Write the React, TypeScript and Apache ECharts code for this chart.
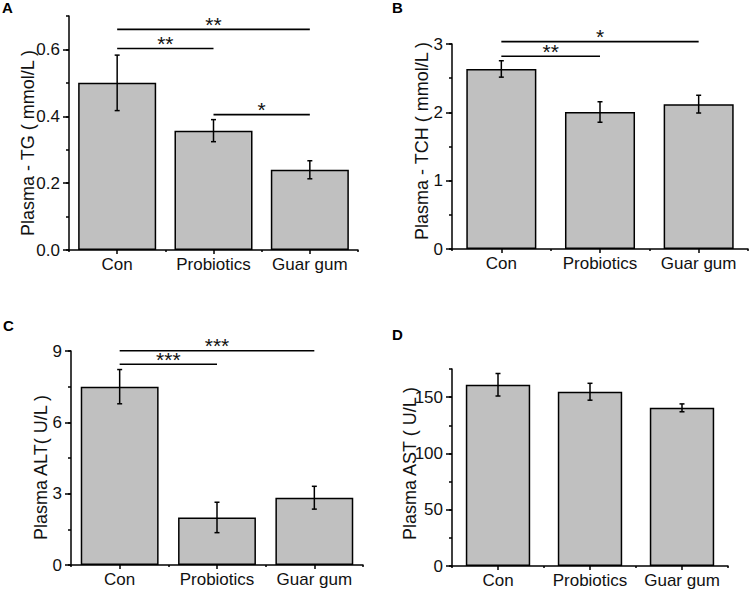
import React, { useEffect, useRef } from "react";
import * as echarts from "echarts";

const categories = ["Con", "Probiotics", "Guar gum"];

const tgMean = [0.5, 0.357, 0.24];
const tgErr = [0.083, 0.033, 0.027];
const tchMean = [2.635, 2.005, 2.12];
const tchErr = [0.12, 0.15, 0.13];
const altMean = [7.5, 2.0, 2.83];
const altErr = [0.72, 0.64, 0.48];
const astMean = [161, 154.8, 140.5];
const astErr = [10, 7.5, 3.5];

// [from category, to category, bracket height, label]
const tgSig: [number, number, number, string][] = [
  [0, 2, 0.66, "**"],
  [0, 1, 0.603, "**"],
  [1, 2, 0.405, "*"],
];
const tchSig: [number, number, number, string][] = [
  [0, 2, 3.035, "*"],
  [0, 1, 2.82, "**"],
];
const altSig: [number, number, number, string][] = [
  [0, 2, 9.01, "***"],
  [0, 1, 8.44, "***"],
];
const astSig: [number, number, number, string][] = [];

const tgTicks = [0, 0.2, 0.4, 0.6];
const tchTicks = [0, 1, 2, 3];
const altTicks = [0, 3, 6, 9];
const astTicks = [0, 50, 100, 150];

const FONT = "Liberation Sans, Arial, sans-serif";
const BLACK = "#000";
const lineStyle = { color: BLACK, width: 1.5 };

const panels = [
  {
    grid: { left: 69, top: 16, width: 289, height: 234 },
    mean: tgMean, err: tgErr, sig: tgSig, ticks: tgTicks,
    max: 0.7, minor: 0.1, dec: 1, barWidth: "81%",
    name: "Plasma - TG ( mmol/L )", nameX: 27.5, nameY: 143,
    letter: "A", lx: 2, ly: 0,
  },
  {
    grid: { left: 452, top: 44, width: 296, height: 205 },
    mean: tchMean, err: tchErr, sig: tchSig, ticks: tchTicks,
    max: 3, minor: 0.5, dec: 0, barWidth: "71%",
    name: "Plasma - TCH ( mmol/L )", nameX: 421.5, nameY: 141,
    letter: "B", lx: 392, ly: 0,
  },
  {
    grid: { left: 71, top: 351, width: 292, height: 214 },
    mean: altMean, err: altErr, sig: altSig, ticks: altTicks,
    max: 9, minor: 1.5, dec: 0, barWidth: "80%",
    name: "Plasma ALT( U/L )", nameX: 41, nameY: 467.5,
    letter: "C", lx: 3, ly: 318,
  },
  {
    grid: { left: 452, top: 369, width: 276, height: 197 },
    mean: astMean, err: astErr, sig: astSig, ticks: astTicks,
    max: 175, minor: 25, dec: 0, barWidth: "70%",
    name: "Plasma AST ( U/L )", nameX: 410, nameY: 463.5,
    letter: "D", lx: 392, ly: 327,
  },
];

function buildOption() {
  const grid: any[] = [];
  const xAxis: any[] = [];
  const yAxis: any[] = [];
  const series: any[] = [];
  const graphic: any[] = [];

  panels.forEach((p, i) => {
    grid.push({ ...p.grid, containLabel: false });
    xAxis.push({
      type: "category",
      gridIndex: i,
      data: categories,
      position: "bottom",
      axisLine: { show: true, lineStyle },
      axisTick: { show: true, alignWithLabel: true, length: 4, lineStyle },
      axisLabel: { color: "#111", fontSize: 17, fontFamily: FONT, margin: 6, interval: 0, hideOverlap: false },
      splitLine: { show: false },
    });
    xAxis.push({
      type: "category",
      gridIndex: i,
      data: categories,
      position: "bottom",
      axisLine: { show: false },
      axisTick: { show: true, length: 2, lineStyle, interval: 0 },
      axisLabel: { show: false },
      splitLine: { show: false },
    });
    yAxis.push({
      type: "value",
      gridIndex: i,
      min: 0,
      max: p.max,
      interval: p.minor,
      position: "left",
      axisLine: { show: true, lineStyle },
      axisTick: { show: true, length: 3, lineStyle },
      axisLabel: { show: false },
      splitLine: { show: false },
    });
    yAxis.push({
      type: "value",
      gridIndex: i,
      min: 0,
      max: p.max,
      position: "left",
      axisLine: { show: false },
      axisTick: { show: true, length: 6, customValues: p.ticks, lineStyle },
      axisLabel: {
        show: true,
        customValues: p.ticks,
        formatter: (v: number) => v.toFixed(p.dec),
        color: "#111",
        fontSize: 17,
        fontFamily: FONT,
        margin: 9,
      },
      splitLine: { show: false },
    });

    series.push({
      type: "bar",
      xAxisIndex: 2 * i,
      yAxisIndex: 2 * i,
      data: p.mean,
      barWidth: p.barWidth,
      itemStyle: { color: "#c0c0c0", borderColor: BLACK, borderWidth: 1.5 },
      silent: true,
    });

    series.push({
      type: "custom",
      xAxisIndex: 2 * i,
      yAxisIndex: 2 * i,
      z: 5,
      silent: true,
      data: p.mean.map((m, j) => [j, m, p.err[j]]),
      encode: { x: 0, y: 1 },
      renderItem: (params: any, api: any) => {
        const x = api.value(0);
        const m = api.value(1);
        const e = api.value(2);
        const top = api.coord([x, m + e]);
        const bot = api.coord([x, m - e]);
        const cap = 2.5;
        const st = { stroke: BLACK, lineWidth: 1.5 };
        return {
          type: "group",
          children: [
            { type: "line", shape: { x1: top[0], y1: top[1], x2: bot[0], y2: bot[1] }, style: st },
            { type: "line", shape: { x1: top[0] - cap, y1: top[1], x2: top[0] + cap, y2: top[1] }, style: st },
            { type: "line", shape: { x1: bot[0] - cap, y1: bot[1], x2: bot[0] + cap, y2: bot[1] }, style: st },
          ],
        };
      },
    });

    if (p.sig.length) {
      series.push({
        type: "custom",
        xAxisIndex: 2 * i,
        yAxisIndex: 2 * i,
        z: 5,
        silent: true,
        data: p.sig.map((s) => [s[0], s[2], s[1]]),
        encode: { x: 0, y: 1 },
        renderItem: (params: any, api: any) => {
          const s = p.sig[params.dataIndex];
          const a = api.coord([s[0], s[2]]);
          const b = api.coord([s[1], s[2]]);
          return {
            type: "group",
            children: [
              {
                type: "line",
                shape: { x1: a[0], y1: a[1], x2: b[0], y2: b[1] },
                style: { stroke: BLACK, lineWidth: 1.6 },
              },
              {
                type: "text",
                x: (a[0] + b[0]) / 2,
                y: a[1] - 5,
                style: {
                  text: s[3],
                  fontSize: 21,
                  fontFamily: FONT,
                  fill: "#111",
                  align: "center",
                  verticalAlign: "middle",
                },
              },
            ],
          };
        },
      });
    }

    graphic.push({
      type: "text",
      x: p.nameX,
      y: p.nameY,
      rotation: Math.PI / 2,
      style: {
        text: p.name,
        fontSize: 18,
        fontFamily: FONT,
        fill: "#111",
        align: "center",
        verticalAlign: "middle",
      },
    });
    graphic.push({
      type: "text",
      x: p.lx,
      y: p.ly,
      style: {
        text: p.letter,
        fontSize: 15,
        fontWeight: "bold",
        fontFamily: FONT,
        fill: "#000",
        align: "left",
        verticalAlign: "top",
      },
    });
  });

  return {
    animation: false,
    backgroundColor: "#fff",
    grid,
    xAxis,
    yAxis,
    series,
    graphic,
  };
}

export default function App() {
  const ref = useRef<HTMLDivElement>(null);
  useEffect(() => {
    if (!ref.current) return;
    const chart = echarts.init(ref.current, undefined, { renderer: "svg" });
    chart.setOption(buildOption() as any);
    return () => chart.dispose();
  }, []);
  return (
    <div
      ref={ref}
      style={{ position: "absolute", left: 0, top: 0, width: 751, height: 597 }}
    />
  );
}
